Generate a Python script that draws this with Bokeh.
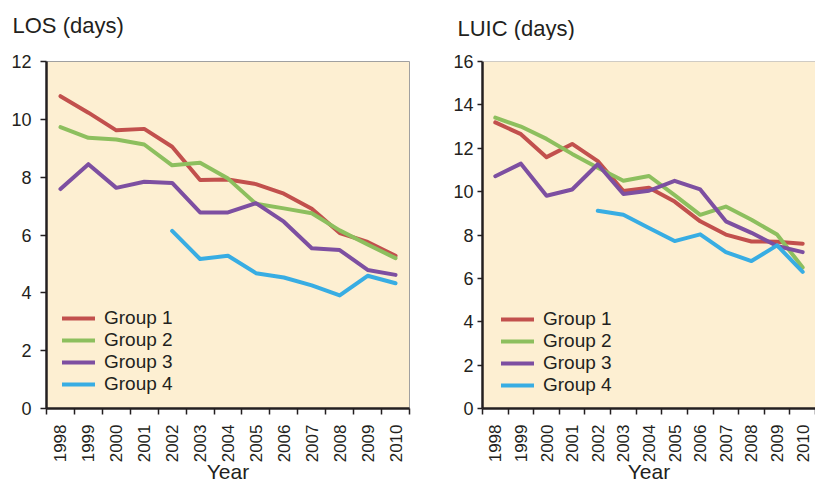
import math
from bokeh.plotting import figure
from bokeh.layouts import row, column
from bokeh.models import Range1d, FixedTicker, Legend, LegendItem, Span
from bokeh.core.properties import value
from bokeh.embed import file_html
from bokeh.resources import INLINE

years = [1998, 1999, 2000, 2001, 2002, 2003, 2004, 2005, 2006, 2007, 2008, 2009, 2010]
years_g4 = [2002, 2003, 2004, 2005, 2006, 2007, 2008, 2009, 2010]
group_names = ["Group 1", "Group 2", "Group 3", "Group 4"]
panel_titles = ["LOS (days)", "LUIC (days)"]

los_g1 = [10.8, 10.23, 9.62, 9.67, 9.05, 7.9, 7.92, 7.76, 7.43, 6.91, 6.07, 5.76, 5.28]
los_g2 = [9.73, 9.36, 9.3, 9.13, 8.41, 8.5, 7.95, 7.08, 6.92, 6.75, 6.16, 5.67, 5.2]
los_g3 = [7.59, 8.45, 7.63, 7.84, 7.8, 6.78, 6.78, 7.1, 6.46, 5.54, 5.48, 4.79, 4.62]
los_g4 = [6.14, 5.17, 5.28, 4.68, 4.53, 4.26, 3.91, 4.59, 4.33]

luic_g1 = [13.19, 12.65, 11.59, 12.2, 11.41, 10.03, 10.18, 9.54, 8.63, 8.02, 7.7, 7.69, 7.6]
luic_g2 = [13.41, 13.0, 12.43, 11.74, 11.1, 10.5, 10.72, 9.84, 8.93, 9.31, 8.7, 8.02, 6.5]
luic_g3 = [10.71, 11.29, 9.81, 10.1, 11.26, 9.89, 10.04, 10.5, 10.1, 8.63, 8.1, 7.49, 7.21]
luic_g4 = [9.12, 8.93, 8.32, 7.72, 8.03, 7.21, 6.8, 7.52, 6.3]

colors = ["#C2504D", "#8DBF5E", "#7D4FA1", "#38ADE3"]
FONT = "Liberation Sans"
TXT = "#231F20"
GRAY = "#A0A0A0"
W1, W2 = 428, 387
HEAD_H = 40
MAIN_H = 486 - HEAD_H


def make_header():
    w = W1 + W2
    h = figure(width=w, height=HEAD_H, output_backend="svg", toolbar_location=None,
               title=None, x_range=Range1d(0, w), y_range=Range1d(0, HEAD_H),
               x_axis_location=None, y_axis_location=None, min_border=0)
    h.grid.visible = False
    h.outline_line_color = None
    h.background_fill_color = "white"
    h.text(x=[12, W1 + 29], y=[HEAD_H - 25, HEAD_H - 28], text=panel_titles,
           text_font=value(FONT), text_font_size="22px", text_color=TXT,
           text_align="left", text_baseline="middle")
    return h


def make_panel(series, ymax, width, border_left, border_right, border_top,
               ytick_out, ystandoff, legend_loc, full_outline):
    p = figure(width=width, height=MAIN_H, output_backend="svg", toolbar_location=None,
               x_range=Range1d(1997.5, 2010.5), y_range=Range1d(0, ymax),
               min_border_left=border_left, min_border_right=border_right,
               min_border_top=border_top, min_border_bottom=77)
    p.background_fill_color = "#FDEFD2"
    p.border_fill_color = "white"
    if full_outline:
        p.outline_line_color = GRAY
        p.outline_line_width = 1
    else:
        p.outline_line_color = None
        p.add_layout(Span(location=ymax, dimension="width", line_color=GRAY, line_width=1))
    p.grid.visible = False

    xa = p.xaxis[0]
    xa.ticker = FixedTicker(ticks=years, minor_ticks=[y - 0.5 for y in years] + [years[-1] + 0.5])
    xa.major_tick_out = 0
    xa.major_tick_in = 0
    xa.minor_tick_out = 6
    xa.minor_tick_in = 0
    xa.minor_tick_line_color = TXT
    xa.minor_tick_line_width = 1.5
    xa.major_label_orientation = math.pi / 2
    xa.major_label_standoff = 10
    xa.major_label_text_font = FONT
    xa.major_label_text_font_size = "17px"
    xa.major_label_text_color = TXT
    xa.axis_label = "Year"
    xa.axis_label_standoff = -5
    xa.axis_label_text_font = FONT
    xa.axis_label_text_font_size = "21px"
    xa.axis_label_text_font_style = "normal"
    xa.axis_label_text_color = TXT
    xa.axis_line_color = TXT
    xa.axis_line_width = 2.5

    ya = p.yaxis[0]
    ya.ticker = FixedTicker(ticks=list(range(0, ymax + 1, 2)))
    ya.major_tick_out = ytick_out
    ya.major_tick_in = 0
    ya.minor_tick_out = 0
    ya.minor_tick_in = 0
    ya.major_tick_line_color = TXT
    ya.major_tick_line_width = 1.5
    ya.major_label_standoff = ystandoff
    ya.major_label_text_font = FONT
    ya.major_label_text_font_size = "18px"
    ya.major_label_text_color = TXT
    ya.axis_line_color = TXT
    ya.axis_line_width = 2.5

    items = []
    for (xs, ys), name, c in zip(series, group_names, colors):
        r = p.line(xs, ys, line_color=c, line_width=4, line_join="round", line_cap="round")
        items.append(LegendItem(label=name, renderers=[r]))
    legend = Legend(items=items, location=legend_loc)
    legend.background_fill_alpha = 0
    legend.border_line_alpha = 0
    legend.glyph_width = 33
    legend.glyph_height = 22
    legend.label_height = 22
    legend.label_standoff = 9
    legend.spacing = 0
    legend.padding = 0
    legend.margin = 0
    legend.label_text_font = FONT
    legend.label_text_font_size = "19px"
    legend.label_text_color = TXT
    p.add_layout(legend, "center")
    return p


header = make_header()
p1 = make_panel([(years, los_g1), (years, los_g2), (years, los_g3), (years_g4, los_g4)],
                12, W1, 46, 19, 61 - HEAD_H, 6, 9, (16, 13), True)
p2 = make_panel([(years, luic_g1), (years, luic_g2), (years, luic_g3), (years_g4, luic_g4)],
                16, W2, 54, 0, 58 - HEAD_H, 5, 4, (19, 12), False)

layout = column(header, row(p1, p2))
open("out.html", "w").write(file_html(layout, INLINE))
